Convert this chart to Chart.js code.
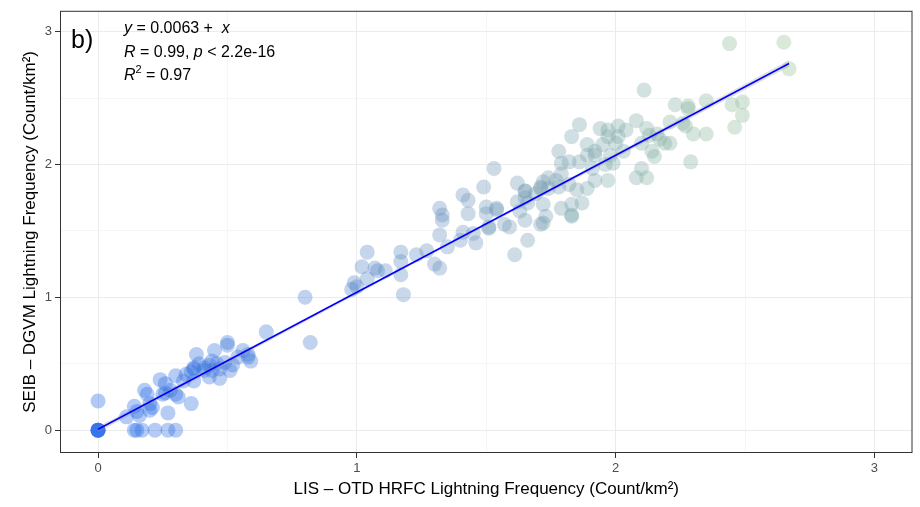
<!DOCTYPE html>
<html><head><meta charset="utf-8">
<style>html,body{margin:0;padding:0;background:#fff;}#wrap{width:920px;height:507px;}</style>
<script src="https://cdn.jsdelivr.net/npm/chart.js@4.4.1/dist/chart.umd.min.js"></script>
</head><body><div id="wrap"><canvas id="c" width="920" height="507"></canvas></div>
<script>
// ---- data ----
const lisOtd = [
 0,0,0,0,0,0.14,0.15,0.17,0.22,0.27,0.30,
 0,0.11,0.14,0.15,0.16,0.18,0.19,0.20,0.21,0.24,0.26,0.26,0.27,0.28,0.30,0.30,0.31,0.33,0.36,0.36,0.37,0.37,0.38,0.39,0.41,0.43,0.43,0.44,0.45,0.46,0.47,0.49,0.50,0.50,0.51,0.52,0.54,0.56,0.58,0.59,0.65,0.80,0.82,
 0.34,0.41,0.44,0.47,0.37,0.58,0.25,0.20,
 0.99,0.98,1.00,1.02,1.04,1.04,1.07,1.08,1.11,1.17,1.17,1.17,1.18,1.23,1.27,1.30,1.32,1.32,1.33,1.33,1.32,1.35,1.40,1.41,1.41,1.43,1.43,1.45,1.46,1.49,1.50,1.50,1.51,1.53,1.54,1.57,1.59,1.61,1.62,1.63,1.65,1.66,1.65,1.69,1.72,1.72,1.73,1.71,1.79,1.83,1.79,1.54,1.51,
 1.86,1.83,1.94,1.97,2.01,2.04,1.89,1.95,2.00,1.78,1.82,1.86,1.89,1.92,1.91,1.96,1.99,2.03,1.79,1.77,1.74,1.72,1.71,1.74,1.78,1.82,1.85,1.89,1.92,1.97,1.65,1.65,1.62,1.66,1.83,1.87,1.83,1.71,
 2.11,2.23,2.28,2.28,2.35,2.45,2.49,2.49,2.46,2.35,2.30,2.27,2.26,2.21,2.21,2.19,2.17,2.16,2.12,2.13,2.14,2.15,2.08,2.01,1.97,2.10,1.98,1.92,2.29,2.10,2.08,2.12,
 2.44,2.65,2.67
];
const seibDgvm = [
 0,0,0,0,0,0,0,0,0,0,0,
 0.22,0.10,0.18,0.14,0.11,0.30,0.27,0.15,0.17,0.38,0.35,0.28,0.13,0.30,0.27,0.41,0.25,0.37,0.44,0.20,0.47,0.37,0.57,0.50,0.45,0.49,0.40,0.45,0.60,0.50,0.39,0.51,0.64,0.66,0.45,0.49,0.55,0.60,0.57,0.52,0.74,1.00,0.66,
 0.42,0.47,0.52,0.46,0.46,0.55,0.27,0.20,
 1.11,1.06,1.08,1.23,1.34,1.14,1.22,1.20,1.20,1.34,1.27,1.17,1.02,1.32,1.35,1.25,1.22,1.67,1.62,1.58,1.47,1.38,1.43,1.49,1.77,1.73,1.63,1.48,1.41,1.83,1.68,1.63,1.53,1.97,1.66,1.55,1.53,1.32,1.86,1.65,1.58,1.43,1.80,1.78,1.56,1.70,1.61,1.83,1.67,1.62,2.01,1.67,1.52,
 2.30,2.21,2.27,2.26,2.29,2.26,2.15,2.15,2.16,2.10,2.02,2.02,2.07,2.07,1.97,2.00,2.01,2.10,1.93,1.88,1.90,1.87,1.82,1.82,1.83,1.85,1.81,1.82,1.88,1.88,1.80,1.75,1.72,1.71,1.70,1.71,1.61,1.55,
 2.56,2.45,2.44,2.42,2.48,2.45,2.47,2.37,2.28,2.23,2.23,2.29,2.31,2.32,2.16,2.16,2.19,2.23,2.27,2.22,2.10,2.06,2.33,2.21,2.21,2.16,2.07,2.10,2.02,1.97,1.90,1.90,
 2.91,2.92,2.72
];
const fitX = [0, 2.67];
const fitY = [0.0063, 2.76];
const bandX = [0, 1.3, 2.67];
const bandLow = [-0.015, 1.335, 2.735];
const bandHigh = [0.025, 1.35, 2.785];
const gridValues = [0, 0.5, 1, 1.5, 2, 2.5, 3];

// ---- styling helpers ----
const FONT = '"Liberation Sans", Arial, Helvetica, sans-serif';
const stops = [[30,100,235],[105,145,190],[150,195,145]];
function pointColor(v){
  let t = Math.max(0, Math.min(1, v / 2.7));
  let a, b, f;
  if (t < 0.5){ a = stops[0]; b = stops[1]; f = t/0.5; } else { a = stops[1]; b = stops[2]; f = (t-0.5)/0.5; }
  const c = a.map((q,i)=>Math.round(q + (b[i]-q)*f));
  return `rgba(${c[0]},${c[1]},${c[2]},0.35)`;
}
const pts = lisOtd.map((x,i)=>({x, y: seibDgvm[i]}));
const isInt = v => Math.abs(v - Math.round(v)) < 1e-9;

const panelBorder = {
  id:'panelBorder',
  afterDatasetsDraw(chart){
    const {ctx, chartArea:a} = chart;
    ctx.save();
    ctx.strokeStyle = '#333333';
    ctx.lineWidth = 1;
    ctx.strokeRect(a.left+0.5, a.top+0.5, a.right-a.left-1, a.bottom-a.top-1);
    ctx.restore();
  }
};
function drawRuns(ctx, x, y, runs){
  for (const r of runs){
    ctx.font = (r.it ? 'italic ' : '') + (r.size || 16) + 'px ' + FONT;
    ctx.fillText(r.t, x, y + (r.sup ? -7 : 0));
    x += ctx.measureText(r.t).width;
  }
}
const annot = {
  id:'annot',
  afterDraw(chart){
    const ctx = chart.ctx;
    ctx.save();
    ctx.fillStyle = '#000';
    ctx.textBaseline = 'alphabetic';
    ctx.textAlign = 'left';
    ctx.font = '25px ' + FONT;
    ctx.fillText('b)', 71, 48);
    drawRuns(ctx, 124, 33, [{t:'y',it:1},{t:' = 0.0063'},{t:' + '},{t:' x',it:1}]);
    drawRuns(ctx, 124, 57, [{t:'R',it:1},{t:' = 0.99, '},{t:'p',it:1},{t:' < 2.2e-16'}]);
    drawRuns(ctx, 124, 80, [{t:'R',it:1},{t:'2',sup:1,size:11},{t:' = 0.97'}]);
    ctx.restore();
  }
};

function axisCommon(titleText, isX){
  return {
    type:'linear',
    afterBuildTicks: s => { s.ticks = gridValues.map(v=>({value:v})); },
    grid:{
      color: c => isInt(c.tick.value) ? '#EBEBEB' : '#F5F5F5',
      lineWidth: 1,
      tickLength: 5,
      tickColor: c => isInt(c.tick.value) ? '#333333' : 'rgba(0,0,0,0)',
      drawTicks: true
    },
    border:{display:false},
    ticks:{
      autoSkip:false, maxRotation:0,
      callback: v => isInt(v) ? String(Math.round(v)) : '',
      color:'#4D4D4D', font:{size:13, family:FONT}, padding: isX ? 3 : 3
    },
    title:{display:true, text:titleText, color:'#000', font:{size:17, family:FONT},
      padding: isX ? {top:0, bottom:7} : {top:20, bottom:0}}
  };
}
const xAxis = Object.assign(axisCommon('LIS – OTD HRFC Lightning Frequency (Count/km²)', true),
  {min:-0.147, max:3.147, afterFit: s => { s.height = 54; }});
const yAxis = Object.assign(axisCommon('SEIB – DGVM Lightning Frequency (Count/km²)', false),
  {min:-0.172, max:3.157, afterFit: s => { s.width = 60; }});

new Chart(document.getElementById('c'), {
  type:'scatter',
  data:{
    datasets:[
      {type:'line', data: fitX.map((x,i)=>({x, y:fitY[i]})), borderColor:'#0000FF', borderWidth:1.6,
       pointRadius:0, fill:false, order:0},
      {type:'line', data: bandX.map((x,i)=>({x, y:bandHigh[i]})), borderWidth:0, pointRadius:0,
       backgroundColor:'rgba(153,153,153,0.3)', fill:'+1', order:1},
      {type:'line', data: bandX.map((x,i)=>({x, y:bandLow[i]})), borderWidth:0, pointRadius:0,
       fill:false, order:2},
      {type:'scatter', data: pts, pointRadius:7.5, pointHoverRadius:7.5, borderWidth:0,
       backgroundColor: pts.map(p=>pointColor(p.x)), order:3}
    ]
  },
  options:{
    responsive:false, devicePixelRatio:1, animation:false,
    layout:{padding:{top:8, right:6, left:0, bottom:0}},
    plugins:{legend:{display:false}, tooltip:{enabled:false}},
    scales:{x:xAxis, y:yAxis}
  },
  plugins:[panelBorder, annot]
});
</script></body></html>
